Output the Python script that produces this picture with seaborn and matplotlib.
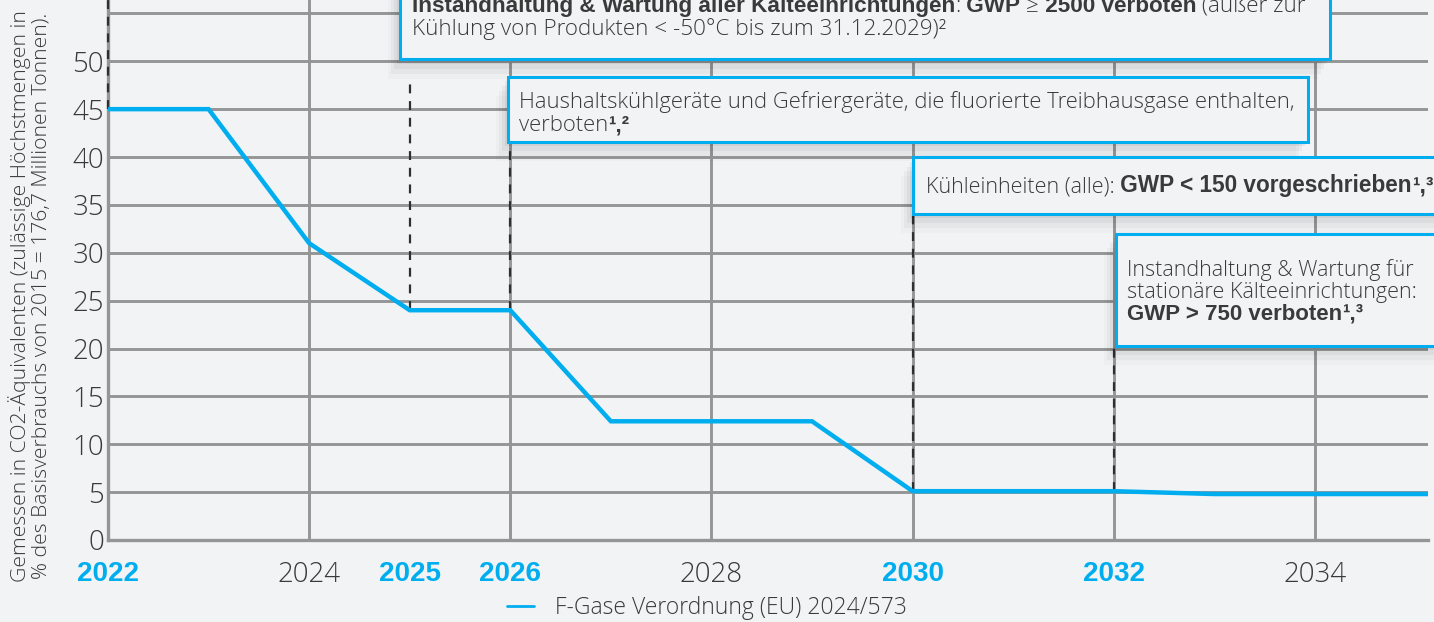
import numpy as np
import matplotlib
matplotlib.use("Agg")
import matplotlib.pyplot as plt
from matplotlib.patches import Rectangle
import seaborn as sns

# values
years = [2022, 2023, 2024, 2025, 2026, 2027, 2029, 2030, 2032, 2033, 2035.2]
quota = [45.0, 45.0, 31.0, 24.0, 24.0, 12.4, 12.4, 5.1, 5.1, 4.8, 4.8]
series_name = "F-Gase Verordnung (EU) 2024/573"

tick_years = [2022, 2024, 2025, 2026, 2028, 2030, 2032, 2034]
key_years = [2022, 2025, 2026, 2030, 2032]
grid_years = [2024, 2026, 2028, 2030, 2032, 2034]

y_label = ("Gemessen in CO2-Äquivalenten (zulässige Höchstmengen in\n"
           "% des Basisverbrauchs von 2015 = 176,7 Millionen Tonnen).")

BLUE = "#00AEEF"
BG = "#F2F3F5"
GRID = "#959595"
TXT = "#3a3a3a"
LIGHT = dict(family=["Open Sans", "DejaVu Sans"], fontweight="light")
BOLD = dict(family=["Liberation Sans", "DejaVu Sans"], fontweight="bold")

sns.set_style("white")
plt.rcParams["font.family"] = ["Open Sans", "DejaVu Sans"]

fig = plt.figure(figsize=(14.34, 6.22), dpi=100, facecolor=BG)
ax = fig.add_axes([108 / 1434, 82 / 622, 1320 / 1434, 540 / 622])
ax.set_facecolor(BG)

sns.lineplot(x=years, y=quota, ax=ax, color=BLUE, linewidth=3.2,
             label=series_name, zorder=4, legend=False)
ax.lines[0].set_solid_joinstyle("miter")

ax.set_xlim(2022, 2035.125)
ax.set_ylim(0, 56.4)

# grid
ax.set_yticks(np.arange(0, 56, 5))
ax.set_yticklabels([str(v) if v <= 50 else "" for v in range(0, 56, 5)])
for v in range(5, 56, 5):
    ax.axhline(v, color=GRID, lw=2.1, zorder=1)
for yr in grid_years:
    ax.axvline(yr, color=GRID, lw=2.1, zorder=1)

for s in ["top", "right"]:
    ax.spines[s].set_visible(False)
for s in ["left", "bottom"]:
    ax.spines[s].set_color(GRID)
    ax.spines[s].set_linewidth(2.4)

ax.set_xticks(tick_years)
ax.set_xticklabels([str(y) for y in tick_years])
ax.tick_params(axis="both", length=0, labelsize=20, colors=TXT)
ax.tick_params(axis="x", pad=15)
ax.tick_params(axis="y", pad=3)
for lab, yr in zip(ax.get_xticklabels(), tick_years):
    if yr in key_years:
        lab.set_fontproperties(dict(family="Liberation Sans", weight="bold", size=20))
        lab.set_color(BLUE)
    else:
        lab.set_fontweight("light")
for lab in ax.get_yticklabels():
    lab.set_fontweight("light")

# annotation boxes: (left year, bottom, right, top)
boxes = [
    (2024.9, 50.2, 2034.15, 60),
    (2025.98, 41.6, 2033.93, 48.4),
    (2030.0, 34.1, 2035.5, 40.0),
    (2032.02, 20.3, 2035.5, 32.0),
]
box_tops_for_lines = [56.4, 48.3, 41.6, 34.1, 20.3]

# dashed event lines from the curve up to the box
for yr, top in zip(key_years, box_tops_for_lines):
    bottom = np.interp(yr, years, quota)
    ax.vlines(yr, bottom, top, colors="#2f2f2f", lw=1.6,
              linestyles=(0, (4, 3.5)), zorder=3, clip_on=False)

for (x0, y0, x1, y1) in boxes:
    for k, a in enumerate([0.05, 0.04, 0.03, 0.02]):
        ax.add_patch(Rectangle((x0 - 0.03 * (k + 1), y0 - 0.5 * (k + 1)), x1 - x0,
                               y1 - y0, facecolor="#000000", alpha=a,
                               edgecolor="none", zorder=4.5, clip_on=False))
    ax.add_patch(Rectangle((x0, y0), x1 - x0, y1 - y0, facecolor=BG,
                           edgecolor=BLUE, lw=2.2, zorder=5, clip_on=False))


def rich_line(x, y, parts, size, bold_size=None):
    bold_size = bold_size or size
    prev = None
    for txt, bold in parts:
        kw = dict(fontsize=bold_size if bold else size, color=TXT, ha="left", zorder=6)
        kw.update(BOLD if bold else LIGHT)
        if prev is None:
            prev = ax.text(x, y, txt, va="baseline", clip_on=False, **kw)
        else:
            prev = ax.annotate(txt, xy=(1, 0), xycoords=prev, va="bottom",
                               annotation_clip=False, **kw)


rich_line(2025.02, 55.1, [("Instandhaltung & Wartung aller Kälteeinrichtungen", True),
                          (":", False), (" GWP", True), (" ≥", False),
                          (" 2500 verboten", True), (" (außer zur", False)], 16.2)
rich_line(2025.02, 52.7, [("Kühlung von Produkten < -50°C bis zum 31.12.2029)²", False)], 16.2)

rich_line(2026.09, 45.1, [("Haushaltskühlgeräte und Gefriergeräte, die fluorierte Treibhausgase enthalten,", False)], 15.8)
rich_line(2026.09, 42.7, [("verboten", False), ("¹,²", True)], 15.8, 16)

rich_line(2030.13, 36.3, [("Kühleinheiten (alle):", False),
                          (" GWP < 150 vorgeschrieben", True), ("¹,³", True)], 15.5, 16.3)

rich_line(2032.13, 27.6, [("Instandhaltung & Wartung für", False)], 15.5)
rich_line(2032.13, 25.3, [("stationäre Kälteeinrichtungen:", False)], 15.5)
rich_line(2032.13, 23.0, [("GWP > 750 verboten", True), ("¹,³", True)], 15.5, 16)

fig.text(0.021, 0.524, y_label, rotation=90, ha="center", va="center",
         multialignment="center", fontsize=15.2, color=TXT, linespacing=1.08,
         **LIGHT)

leg = fig.legend(handles=ax.lines[:1], labels=[series_name], loc="center",
                 bbox_to_anchor=(0.493, 0.023), frameon=False,
                 prop=dict(family="Open Sans", weight="light", size=16.5),
                 handlelength=1.2, handletextpad=0.9)
for t in leg.get_texts():
    t.set_color(TXT)
for h in leg.get_lines():
    h.set_linewidth(2)

fig.savefig("out.png", dpi=100, facecolor=BG)
